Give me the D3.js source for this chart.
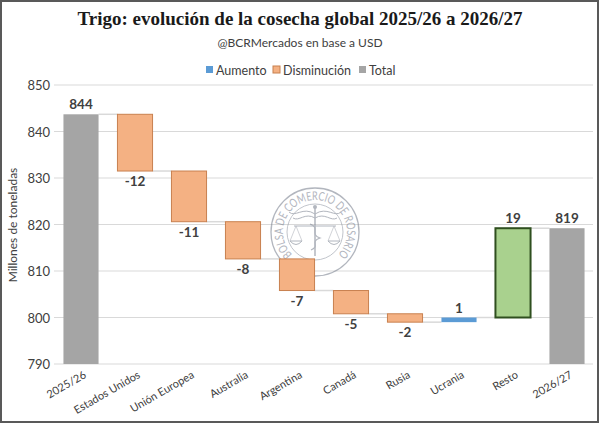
<!DOCTYPE html>
<html>
<head>
<meta charset="utf-8">
<script src="https://cdn.jsdelivr.net/npm/d3@7"></script>
<style>
  body { margin: 0; background: #fff; }
  svg { display: block; font-family: Lato, 'Noto Sans', sans-serif; }
</style>
</head>
<body>
<div id="chart-area"></div>
<script>
const width = 600;
const height = 424;

// data (millones de toneladas)
const categories = ['2025/26', 'Estados Unidos', 'Unión Europea', 'Australia', 'Argentina', 'Canadá', 'Rusia', 'Ucrania', 'Resto', '2026/27'];
const values = [843.7, -12.2, -10.9, -8.0, -6.8, -5.0, -1.8, 1.0, 19.2, 819.2];
const kinds = ['total', 'down', 'down', 'down', 'down', 'down', 'down', 'up', 'resto', 'total'];
const yTicks = [790, 800, 810, 820, 830, 840, 850];
const legendItems = ['Aumento', 'Disminución', 'Total'];

const fills = { up: '#5b9bd5', down: '#f4b183', total: '#a5a5a5', resto: '#a9d18e' };
const strokes = { up: 'none', down: '#c8804f', total: 'none', resto: '#2f4f1f' };
const legendColors = ['#5b9bd5', '#f4b183', '#a5a5a5'];

const svg = d3
  .select('#chart-area')
  .append('svg')
  .attr('width', width)
  .attr('height', height);

// outer frame
svg
  .append('rect')
  .attr('x', 1)
  .attr('y', 1)
  .attr('width', width - 3)
  .attr('height', height - 3)
  .attr('fill', '#fff')
  .attr('stroke', '#595959')
  .attr('stroke-width', 2);

const x = d3.scaleBand().domain(categories).range([54, 594]).paddingInner(0.35).paddingOuter(0.175);
const y = d3.scaleLinear().domain([790, 850]).range([364, 85]);

// gridlines
svg
  .append('g')
  .selectAll('line')
  .data(yTicks)
  .join('line')
  .attr('x1', 54)
  .attr('x2', 593)
  .attr('y1', (d) => y(d))
  .attr('y2', (d) => y(d))
  .attr('stroke', '#d9d9d9')
  .attr('stroke-width', 1);

// watermark seal
const sealColor = '#7f8694';
const seal = svg.append('g').attr('transform', 'translate(315,232)').attr('opacity', 0.6);
seal.append('circle').attr('r', 44).attr('fill', 'none').attr('stroke', sealColor).attr('stroke-width', 1.3);
seal.append('circle').attr('r', 28).attr('fill', 'none').attr('stroke', sealColor).attr('stroke-width', 0.8);
seal
  .append('path')
  .attr('id', 'sealArc')
  .attr('d', 'M -22.6,22.6 A 32,32 0 1,1 22.6,22.6')
  .attr('fill', 'none');
seal
  .append('text')
  .attr('font-size', 12)
  .attr('fill', sealColor)
  .append('textPath')
  .attr('href', '#sealArc')
  .attr('textLength', 150)
  .attr('lengthAdjust', 'spacingAndGlyphs')
  .text('BOLSA DE COMERCIO DE ROSARIO');
// caduceus and scales
seal.append('line').attr('y1', -24).attr('y2', 24).attr('stroke', sealColor).attr('stroke-width', 1.5);
seal.append('circle').attr('cy', -25).attr('r', 2).attr('fill', sealColor);
seal.append('path').attr('d', 'M 0,-18 C -12,-26 -20,-14 -26,-20 M 0,-18 C 12,-26 20,-14 26,-20 M 0,-14 C -10,-20 -16,-10 -22,-14 M 0,-14 C 10,-20 16,-10 22,-14').attr('fill', 'none').attr('stroke', sealColor);
seal.append('path').attr('d', 'M -5,-8 C 6,-4 -6,2 5,6 C -6,10 6,14 -4,18').attr('fill', 'none').attr('stroke', sealColor).attr('stroke-width', 1.2);
seal.append('line').attr('x1', -21).attr('x2', 21).attr('y1', -6).attr('y2', -6).attr('stroke', sealColor).attr('stroke-width', 1);
seal.append('path').attr('d', 'M -25,9 Q -19,16 -13,9 Z M 13,9 Q 19,16 25,9 Z').attr('fill', 'none').attr('stroke', sealColor);
seal.append('path').attr('d', 'M -19,-6 L -25,9 M -19,-6 L -13,9 M 19,-6 L 13,9 M 19,-6 L 25,9').attr('stroke', sealColor).attr('stroke-width', 0.6);

// waterfall steps
let running = 0;
const steps = values.map((v, i) => {
  let lo, hi, end;
  if (kinds[i] === 'total') {
    lo = 790;
    hi = v;
    end = v;
  } else {
    const start = running;
    end = running + v;
    lo = Math.min(start, end);
    hi = Math.max(start, end);
  }
  running = end;
  return { cat: categories[i], value: v, kind: kinds[i], lo, hi, end };
});

// connectors
svg
  .append('g')
  .selectAll('line')
  .data(steps.slice(0, -1))
  .join('line')
  .attr('x1', (d) => x(d.cat) + x.bandwidth())
  .attr('x2', (d, i) => x(categories[i + 1]))
  .attr('y1', (d) => y(d.end))
  .attr('y2', (d) => y(d.end))
  .attr('stroke', '#d9d9d9')
  .attr('stroke-width', 1.5);

// bars
svg
  .append('g')
  .selectAll('rect')
  .data(steps)
  .join('rect')
  .attr('x', (d) => x(d.cat))
  .attr('width', x.bandwidth())
  .attr('y', (d) => y(d.hi))
  .attr('height', (d) => y(d.lo) - y(d.hi))
  .attr('fill', (d) => fills[d.kind])
  .attr('stroke', (d) => strokes[d.kind])
  .attr('stroke-width', (d) => (d.kind === 'resto' ? 2 : 1));

// value labels
svg
  .append('g')
  .selectAll('text')
  .data(steps)
  .join('text')
  .attr('x', (d) => x(d.cat) + x.bandwidth() / 2)
  .attr('y', (d) => (d.value < 0 ? y(d.lo) + 15 : y(d.hi) - 5))
  .attr('text-anchor', 'middle')
  .attr('font-size', 13.5)
  .attr('font-weight', 'bold')
  .attr('fill', '#404040')
  .text((d) => String(Math.round(d.value)));

// y axis labels
svg
  .append('g')
  .selectAll('text')
  .data(yTicks)
  .join('text')
  .attr('x', 50)
  .attr('y', (d) => y(d) + 5)
  .attr('text-anchor', 'end')
  .attr('font-size', 13)
  .attr('fill', '#404040')
  .text((d) => d);

svg
  .append('text')
  .attr('transform', 'translate(17,225) rotate(-90)')
  .attr('text-anchor', 'middle')
  .attr('font-size', 12)
  .attr('fill', '#404040')
  .text('Millones de toneladas');

// x axis labels
svg
  .append('g')
  .selectAll('text')
  .data(categories)
  .join('text')
  .attr('transform', (d) => `translate(${x(d) + x.bandwidth() / 2 + 6},377) rotate(-30)`)
  .attr('text-anchor', 'end')
  .attr('font-size', 11)
  .attr('fill', '#404040')
  .text((d) => d);

// titles
svg
  .append('text')
  .attr('x', 300)
  .attr('y', 25)
  .attr('text-anchor', 'middle')
  .attr('font-family', "'Liberation Serif', 'DejaVu Serif', serif")
  .attr('font-weight', 'bold')
  .attr('font-size', 19)
  .attr('fill', '#1a1a1a')
  .text('Trigo: evolución de la cosecha global 2025/26 a 2026/27');

svg
  .append('text')
  .attr('x', 300)
  .attr('y', 47)
  .attr('text-anchor', 'middle')
  .attr('font-size', 12)
  .attr('fill', '#404040')
  .text('@BCRMercados en base a USD');

// legend
const legendX = [206, 273, 359];
const legend = svg
  .append('g')
  .selectAll('g')
  .data(legendItems)
  .join('g')
  .attr('transform', (d, i) => `translate(${legendX[i]},70)`);
legend
  .append('rect')
  .attr('x', 0)
  .attr('y', -4)
  .attr('width', 7)
  .attr('height', 7)
  .attr('fill', (d, i) => legendColors[i])
  .attr('stroke', (d, i) => (i === 1 ? '#c8804f' : 'none'));
legend
  .append('text')
  .attr('x', 10)
  .attr('y', 4.5)
  .attr('font-size', 12.5)
  .attr('fill', '#404040')
  .text((d) => d);
</script>
</body>
</html>
